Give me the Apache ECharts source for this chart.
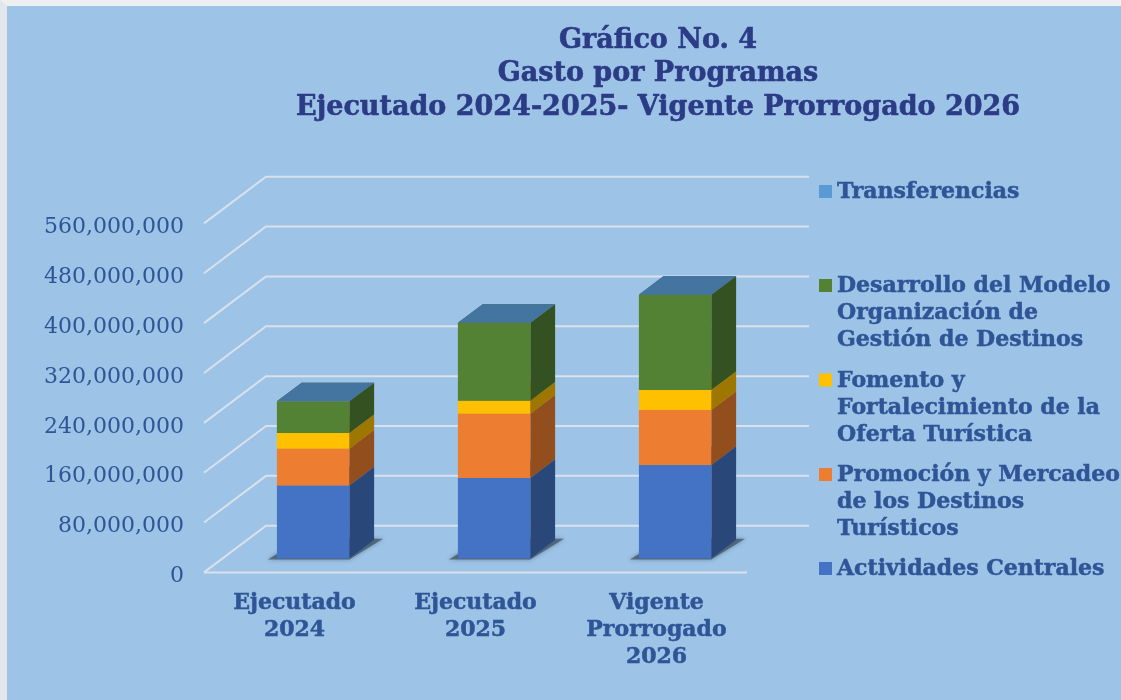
<!DOCTYPE html>
<html>
<head>
<meta charset="utf-8">
<title>Gasto por Programas</title>
<script src="https://cdn.jsdelivr.net/npm/echarts@6/dist/echarts.min.js"></script>
<style>
    html, body { margin: 0; padding: 0; background: #9dc3e6; }
    #frame { position: absolute; left: 0; top: 0; width: 1114px; height: 694px; background: #9dc3e6;
             border-left: 7px solid #e3e6ea; border-top: 6px solid #eeeff1; }
    #main { position: absolute; left: 0; top: 0; width: 1121px; height: 700px; }
</style>
</head>
<body>
<div id="frame"></div>
<div id="main"></div>
<script type="text/javascript">
    // datos
    var categories = ['Ejecutado\n2024', 'Ejecutado\n2025', 'Vigente\nProrrogado\n2026'];
    var actividades = [117000000, 129000000, 150000000];
    var promocion = [59000000, 103000000, 88000000];
    var fomento = [25000000, 21000000, 32000000];
    var desarrollo = [51000000, 125000000, 153000000];
    var transferencias = [0, 0, 0];
    var yTicks = [0, 80000000, 160000000, 240000000, 320000000, 400000000, 480000000, 560000000];

    var names = [
        'Actividades Centrales',
        'Promoción y Mercadeo\nde los Destinos\nTurísticos',
        'Fomento y\nFortalecimiento de la\nOferta Turística',
        'Desarrollo del Modelo\nOrganización de\nGestión de Destinos',
        'Transferencias'
    ];
    var values = [actividades, promocion, fomento, desarrollo, transferencias];
    var colors = ['#4472C4', '#ED7D31', '#FFC000', '#548235', '#5B9BD5'];

    // perspectiva del piso y posicion de la leyenda
    var depthX = 62, depthY = 46.7;
    var barFront = 0.3, barBack = 0.7;
    var legendY = [568.5, 474.5, 380, 285.5, 191.5];
    var legendLine = 27;
    var textBlue = '#2F5597';
    var serif = '"DejaVu Serif", serif';

    function shade(hex, f) {
        var n = parseInt(hex.slice(1), 16);
        return 'rgb(' + Math.round((n >> 16) * f) + ',' + Math.round(((n >> 8) & 255) * f) + ',' + Math.round((n & 255) * f) + ')';
    }

    function renderWall(params, api) {
        var sys = params.coordSys;
        var v = api.value(0);
        var y = api.coord([0, v])[1];
        var left = sys.x, right = sys.x + sys.width;
        var pts = [[left, y], [left + depthX, y - depthY], [right + depthX, y - depthY]];
        var children = [{
            type: 'polyline',
            shape: { points: pts },
            style: { stroke: '#d9e1ec', lineWidth: 2, fill: null }
        }];
        if (v === 0) {
            children.push({
                type: 'line',
                shape: { x1: left, y1: y, x2: right, y2: y },
                style: { stroke: '#d9e1ec', lineWidth: 2 }
            });
        }
        return { type: 'group', children: children };
    }

    function makeRenderBar(color, withShadow) {
        return function (params, api) {
            var cat = api.value(0), from = api.value(1), to = api.value(2);
            var half = api.size([1, 0])[0] * 0.2;
            var x = api.coord([cat, 0])[0];
            var yFrom = api.coord([cat, from])[1], yTo = api.coord([cat, to])[1];
            var fx = depthX * barFront, fy = depthY * barFront;
            var bx = depthX * (barBack - barFront), by = depthY * (barBack - barFront);
            var x0 = x + fx - half, x1 = x + fx + half;
            var y0 = yFrom - fy, y1 = yTo - fy;
            var children = [];
            if (withShadow) {
                children.push({
                    type: 'polygon',
                    shape: { points: [[x0 - 9, y0 + 1], [x1, y0 + 1], [x1 + bx + 9, y0 - by - 1], [x0 + bx, y0 - by - 1]] },
                    style: { fill: 'rgba(60,80,100,0.7)', shadowBlur: 4, shadowColor: 'rgba(60,80,100,0.7)' }
                });
            }
            children.push({
                type: 'polygon',
                shape: { points: [[x1, y0], [x1 + bx, y0 - by], [x1 + bx, y1 - by], [x1, y1]] },
                style: { fill: shade(color, 0.62) }
            });
            children.push({
                type: 'polygon',
                shape: { points: [[x0, y1], [x1, y1], [x1 + bx, y1 - by], [x0 + bx, y1 - by]] },
                style: { fill: shade(color, 0.75) }
            });
            children.push({
                type: 'rect',
                shape: { x: x0, y: y1, width: x1 - x0, height: y0 - y1 },
                style: { fill: color }
            });
            return { type: 'group', children: children };
        };
    }

    var stackBase = [0, 0, 0];
    var barSeries = values.map(function (vals, s) {
        var rows = vals.map(function (v, i) {
            var row = [i, stackBase[i], stackBase[i] + v];
            stackBase[i] += v;
            return row;
        });
        return {
            name: names[s],
            type: 'custom',
            silent: true,
            z: 3 + s,
            itemStyle: { color: colors[s] },
            renderItem: makeRenderBar(colors[s], s === 0),
            encode: { x: 0, y: [1, 2] },
            data: rows
        };
    });

    var wallSeries = {
        name: 'rejilla',
        type: 'custom',
        silent: true,
        z: 1,
        renderItem: renderWall,
        encode: { y: 0 },
        data: yTicks.map(function (v) { return [v]; })
    };

    // el cuadrito queda a la altura de la primera linea del texto
    var legends = names.map(function (name, s) {
        var h = name.split('\n').length * legendLine;
        return {
            data: [{ name: name, icon: 'path://M0 6H13V19H0Z M0 0H0.01 M0 ' + h + 'H0.01' }],
            left: 819,
            top: legendY[s] - legendLine / 2 + 1,
            padding: 0,
            itemWidth: 13,
            itemHeight: h,
            selectedMode: false,
            textStyle: {
                fontFamily: serif, fontWeight: 'bold', fontSize: 22, lineHeight: legendLine,
                color: textBlue, textBorderColor: textBlue, textBorderWidth: 0.5
            }
        };
    });

    var myChart = echarts.init(document.getElementById('main'), null, { renderer: 'canvas' });

    var option = {
        animation: false,
        backgroundColor: 'transparent',
        title: {
            text: 'Gráfico No. 4\nGasto por Programas\nEjecutado 2024-2025- Vigente Prorrogado 2026',
            left: 658,
            top: 24,
            textAlign: 'center',
            padding: 0,
            textStyle: {
                fontFamily: serif, fontWeight: 'bold', fontSize: 27, lineHeight: 33.5,
                color: '#2B3B85', textBorderColor: '#2B3B85', textBorderWidth: 0.6
            }
        },
        legend: legends,
        grid: { left: 204, top: 223.4, width: 543, height: 349 },
        xAxis: {
            type: 'category',
            data: categories,
            axisLine: { show: false },
            axisTick: { show: false },
            axisLabel: {
                margin: 17, interval: 0, fontFamily: serif, fontWeight: 'bold',
                fontSize: 22, lineHeight: 27, color: textBlue,
                textBorderColor: textBlue, textBorderWidth: 0.5
            }
        },
        yAxis: {
            type: 'value',
            min: 0,
            max: 560000000,
            interval: 80000000,
            axisLine: { show: false },
            axisTick: { show: false },
            splitLine: { show: false },
            axisLabel: {
                margin: 20, fontFamily: serif, fontSize: 22, color: textBlue,
                verticalAlign: 'top', lineHeight: 8,
                formatter: function (v) { return v.toLocaleString('en-US'); }
            }
        },
        series: [wallSeries].concat(barSeries)
    };

    myChart.setOption(option);
</script>
</body>
</html>
